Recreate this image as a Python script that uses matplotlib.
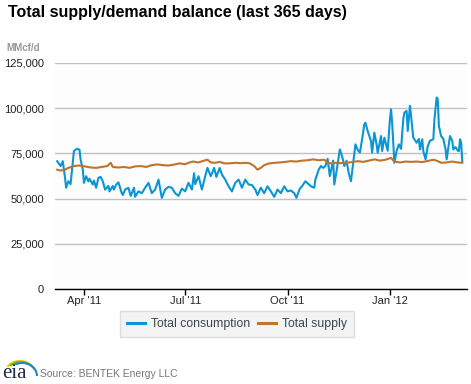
import matplotlib
matplotlib.use("Agg")
import matplotlib.pyplot as plt
from matplotlib.patches import Arc
import numpy as np
import datetime as dt

plt.rcParams['font.family'] = ['Liberation Sans', 'DejaVu Sans']

start_date = dt.date(2011, 3, 8)

# Total consumption (thousand MMcf/d) at day offsets from start_date
cons_days = [0, 3, 5, 7, 8, 10, 12, 15, 18, 20, 21, 23, 24, 26, 28, 29, 32, 33, 35, 37,
             39, 41, 43, 46, 47, 50, 51, 53, 55, 58, 59, 61, 64, 66, 69, 70, 73, 76, 79, 82,
             85, 88, 91, 94, 97, 100, 103, 106, 109, 112, 115, 118, 121, 123, 124, 127, 130, 133, 135, 138,
             141, 143, 146, 148, 151, 154, 157, 160, 163, 166, 169, 172, 175, 178, 180, 183, 186, 189, 192, 195,
             198, 201, 204, 207, 210, 213, 215, 218, 220, 223, 226, 228, 231, 232, 235, 237, 239, 241, 243, 245,
             248, 249, 251, 254, 256, 258, 260, 262, 264, 266, 268, 270, 272, 274, 276, 277, 279, 282, 283, 285,
             287, 288, 291, 292, 294, 297, 299, 300, 301, 303, 305, 307, 309, 311, 312, 314, 315, 317, 318, 320,
             323, 325, 326, 328, 329, 331, 333, 335, 338, 339, 341, 342, 343, 345, 347, 349, 350, 353, 355, 356,
             358, 360, 361, 362, 363, 364]
cons_vals = [70.7, 68.0, 70.7, 61.6, 56.0, 59.6, 58.0, 76.3, 77.6, 77.0, 71.7, 66.0, 58.7, 62.4, 59.5, 61.0, 57.8, 60.0, 56.0, 61.5,
             62.0, 59.5, 55.0, 57.0, 54.0, 57.0, 55.0, 57.8, 59.0, 53.0, 52.0, 55.0, 56.0, 51.5, 56.0, 51.0, 54.0, 53.0, 56.0, 58.7,
             53.0, 55.0, 60.5, 50.4, 55.0, 56.5, 56.0, 53.0, 51.5, 55.5, 54.0, 58.7, 55.0, 64.0, 58.0, 62.4, 55.0, 62.4, 67.0, 62.4,
             67.0, 62.0, 67.0, 63.3, 60.5, 56.8, 54.0, 58.7, 60.5, 56.0, 60.5, 57.8, 57.5, 55.0, 52.0, 56.0, 53.0, 56.8, 54.0, 51.0,
             55.0, 53.0, 56.8, 54.0, 54.5, 53.0, 50.4, 55.5, 56.8, 59.6, 58.0, 56.8, 56.0, 60.5, 66.0, 68.0, 67.0, 68.0, 72.0, 62.4,
             71.0, 57.8, 65.0, 77.2, 73.5, 68.0, 71.0, 64.0, 59.6, 70.0, 80.0, 77.0, 75.4, 82.8, 91.1, 92.0, 87.4, 81.8, 75.4, 86.5,
             80.0, 75.4, 84.6, 76.3, 83.7, 76.5, 93.9, 99.4, 92.0, 69.8, 76.3, 80.0, 77.5, 93.9, 97.6, 98.5, 87.4, 101.3, 95.7, 83.7,
             80.9, 83.0, 77.2, 82.8, 76.3, 71.7, 79.0, 82.0, 82.8, 93.9, 105.9, 105.0, 90.2, 84.6, 83.0, 77.2, 71.7, 84.6, 82.0, 77.2,
             78.5, 76.5, 76.3, 82.8, 81.0, 70.7]

# Total supply (thousand MMcf/d)
supply_days = [0, 3, 7, 10, 15, 20, 25, 30, 35, 40, 45, 48, 50, 55, 60, 65, 70, 75, 80, 85,
               90, 95, 100, 105, 110, 115, 118, 122, 127, 132, 135, 138, 142, 146, 150, 155, 160, 165, 170, 173,
               177, 180, 183, 186, 190, 195, 200, 205, 210, 215, 220, 225, 230, 235, 240, 243, 246, 250, 255, 260,
               265, 270, 275, 280, 285, 290, 295, 300, 303, 308, 313, 318, 323, 328, 333, 338, 341, 345, 350, 355,
               360, 364]
supply_vals = [66.0, 65.5, 66.0, 67.0, 68.0, 68.3, 67.8, 67.2, 67.0, 67.5, 68.0, 69.8, 67.5, 67.2, 67.5, 67.0, 67.8, 68.0, 67.5, 68.5,
               68.9, 68.5, 68.3, 68.8, 69.5, 69.0, 69.8, 70.5, 70.0, 71.0, 71.5, 70.0, 69.8, 70.3, 69.5, 69.5, 69.8, 69.6, 69.8, 69.5,
               68.0, 66.0, 67.0, 68.5, 69.4, 69.8, 70.0, 70.3, 70.7, 70.5, 71.0, 71.2, 71.7, 71.2, 71.5, 70.0, 69.4, 69.8, 69.6, 69.8,
               70.2, 70.7, 70.3, 71.0, 71.7, 71.0, 71.5, 72.5, 70.5, 70.0, 70.5, 70.3, 70.5, 70.2, 70.8, 71.5, 71.0, 69.8, 70.0, 70.5,
               70.0, 69.8]

y_ticks = [0, 25000, 50000, 75000, 100000, 125000]
x_tick_dates = [dt.date(2011, 4, 1), dt.date(2011, 7, 1), dt.date(2011, 10, 1), dt.date(2012, 1, 1)]
x_tick_labels = ["Apr '11", "Jul '11", "Oct '11", "Jan '12"]

cons_x = [start_date + dt.timedelta(days=d) for d in cons_days]
sup_x = [start_date + dt.timedelta(days=d) for d in supply_days]
cons_y = np.array(cons_vals) * 1000
sup_y = np.array(supply_vals) * 1000

W, H = 471, 384
fig = plt.figure(figsize=(W / 100, H / 100), dpi=100)
fig.patch.set_facecolor('white')
ax = fig.add_axes([55 / W, (H - 289) / H, (466.7 - 55) / W, (289 - 63) / H])
ax.set_facecolor('#fdfdfd')

blue = '#0a96d4'
orange = '#c0732c'
ax.plot(cons_x, cons_y, color=blue, lw=1.5, label='Total consumption', zorder=3)
ax.plot(sup_x, sup_y, color=orange, lw=1.5, label='Total supply', zorder=3)

ax.set_ylim(0, 125000)
ax.set_xlim(dt.date(2011, 3, 6), dt.date(2012, 3, 10))
ax.set_yticks(y_ticks)
ax.set_yticklabels([f"{v:,}" for v in y_ticks])
ax.set_xticks(x_tick_dates)
ax.set_xticklabels(x_tick_labels)
ax.grid(axis='y', color='#c0c0c0', lw=1.0)
ax.set_axisbelow(True)
for s in ['top', 'right', 'left']:
    ax.spines[s].set_visible(False)
ax.spines['bottom'].set_color('black')
ax.spines['bottom'].set_linewidth(1.0)
ax.tick_params(axis='y', length=0, pad=8, labelsize=8, labelcolor='#222222')
ax.tick_params(axis='x', length=4, width=1, color='black', pad=1, labelsize=8, labelcolor='#222222')

fig.text(8 / W, 1 - 12 / H, "Total supply/demand balance (last 365 days)", fontsize=11.5,
         fontweight='bold', color='black', va='center', ha='left')
fig.text(6 / W, 1 - 48 / H, "MMcf/d", fontsize=7, fontweight='bold', color='#999999', va='center', ha='left')

leg = fig.legend(loc='center', bbox_to_anchor=(237 / W, 1 - 324 / H), ncol=2, frameon=True,
                 fancybox=False, fontsize=8.8, handlelength=1.5, handletextpad=0.5, columnspacing=0.6,
                 borderpad=0.55)
leg.get_frame().set_facecolor('#f0f0f0')
leg.get_frame().set_edgecolor('#d8d8d8')
leg.get_frame().set_linewidth(1.0)
for t in leg.get_texts():
    t.set_color('#3a4556')
for l in leg.get_lines():
    l.set_linewidth(2.2)

fig.text(40 / W, 1 - 374 / H, "Source: BENTEK Energy LLC", fontsize=7.5, color='#777777', va='center', ha='left')

# eia logo
fig.text(2 / W, 1 - 374 / H, "eia", fontsize=15, family=['Liberation Serif', 'DejaVu Serif'],
         color='#1f2a44', va='center', ha='left')
lax = fig.add_axes([0, 0, 40 / W, 40 / H])
lax.set_xlim(0, 40)
lax.set_ylim(0, 40)
lax.axis('off')
lax.add_patch(Arc((20, 10), 30, 26, theta1=40, theta2=150, color='#f2c200', lw=1.5))
lax.add_patch(Arc((21, 9), 30, 26, theta1=20, theta2=140, color='#6ab42d', lw=1.5))
lax.add_patch(Arc((22, 8), 30, 26, theta1=0, theta2=120, color='#1e88c8', lw=1.5))

fig.savefig('out.png', dpi=100, facecolor='white')
